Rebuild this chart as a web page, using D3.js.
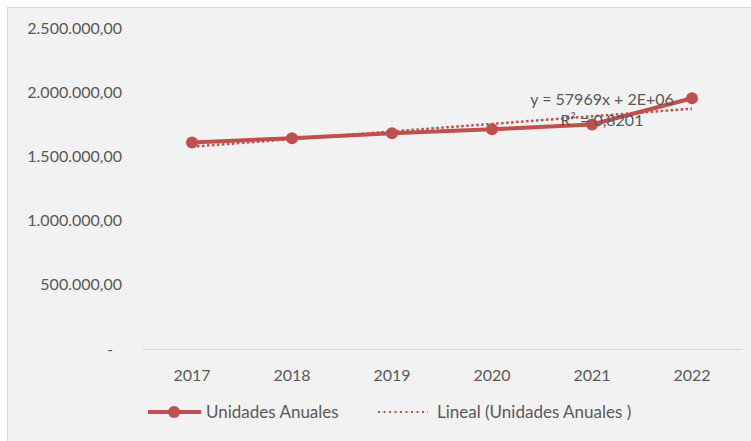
<!DOCTYPE html>
<html>
<head>
<meta charset="utf-8">
<script src="https://cdn.jsdelivr.net/npm/d3@7"></script>
<style>
  body { margin: 0; background: #fff; }
  svg { display: block; font-family: Lato, "Noto Sans", sans-serif; }
</style>
</head>
<body>
<svg id="chart" width="751" height="441"></svg>
<script>
// chart data
const years = ['2017', '2018', '2019', '2020', '2021', '2022'];
const unidades = [1609000, 1641000, 1680000, 1711000, 1748000, 1953000];
const yTicks = [0, 500000, 1000000, 1500000, 2000000, 2500000];
const trendLabels = ['y = 57969x + 2E+06', 'R² = 0,8201'];
const legendLabels = ['Unidades Anuales', 'Lineal (Unidades Anuales )'];

const red = '#c0504d';
const textColor = '#595959';

const svg = d3.select('#chart');

// chart area frame
svg.append('rect')
  .attr('x', 7.5).attr('y', 7.5)
  .attr('width', 760).attr('height', 440)
  .attr('fill', '#f2f2f2')
  .attr('stroke', '#d9d9d9');

const x = d3.scaleBand().domain(years).range([142, 742]);
const y = d3.scaleLinear().domain([0, 2500000]).range([349, 28]);

// Spanish number format
const fmt = d3.formatLocale({ decimal: ',', thousands: '.', grouping: [3], currency: ['', ''] }).format(',.2f');

// y axis labels
svg.append('g').selectAll('text')
  .data(yTicks)
  .join('text')
    .attr('x', d => d === 0 ? 113 : 122)
    .attr('y', d => y(d))
    .attr('dy', '0.35em')
    .attr('text-anchor', 'end')
    .attr('fill', textColor)
    .style('font-size', '16px')
    .text(d => d === 0 ? '-' : fmt(d));

// baseline
svg.append('line')
  .attr('x1', 142).attr('x2', 742)
  .attr('y1', y(0) + 0.5).attr('y2', y(0) + 0.5)
  .attr('stroke', '#d9d9d9');

// x axis labels
svg.append('g').selectAll('text')
  .data(years)
  .join('text')
    .attr('x', d => x(d) + x.bandwidth() / 2)
    .attr('y', 381)
    .attr('text-anchor', 'middle')
    .attr('fill', textColor)
    .style('font-size', '16px')
    .text(d => d);

const cx = (d, i) => x(years[i]) + x.bandwidth() / 2;

// linear trend (least squares on index 1..n)
const n = unidades.length;
const idx = d3.range(1, n + 1);
const mx = d3.mean(idx), my = d3.mean(unidades);
const slope = d3.sum(idx, (k, i) => (k - mx) * (unidades[i] - my)) / d3.sum(idx, k => (k - mx) ** 2);
const intercept = my - slope * mx;
const trend = idx.map(k => intercept + slope * k);

// series line
svg.append('path')
  .datum(unidades)
  .attr('fill', 'none')
  .attr('stroke', red)
  .attr('stroke-width', 4)
  .attr('stroke-linejoin', 'round')
  .attr('d', d3.line().x(cx).y(d => y(d)));

svg.append('g').selectAll('circle')
  .data(unidades)
  .join('circle')
    .attr('cx', cx)
    .attr('cy', d => y(d))
    .attr('r', 6)
    .attr('fill', red);

// trend line drawn over the series
svg.append('path')
  .datum(trend)
  .attr('fill', 'none')
  .attr('stroke', red)
  .attr('stroke-width', 2.5)
  .attr('stroke-dasharray', '2.5 2.5')
  .attr('d', d3.line().x(cx).y(d => y(d)));

// trend equation
svg.append('g').selectAll('text')
  .data(trendLabels)
  .join('text')
    .attr('x', 602)
    .attr('y', (d, i) => 105 + i * 21)
    .attr('text-anchor', 'middle')
    .attr('fill', textColor)
    .style('font-size', '16px')
    .text(d => d);

// legend
const legend = svg.append('g');
legend.append('line')
  .attr('x1', 148).attr('x2', 201).attr('y1', 412).attr('y2', 412)
  .attr('stroke', red).attr('stroke-width', 4);
legend.append('circle')
  .attr('cx', 174).attr('cy', 412).attr('r', 6).attr('fill', red);
legend.append('text')
  .attr('x', 206).attr('y', 412).attr('dy', '0.35em')
  .attr('fill', textColor).style('font-size', '17px')
  .text(legendLabels[0]);
legend.append('line')
  .attr('x1', 378).attr('x2', 428).attr('y1', 412).attr('y2', 412)
  .attr('stroke', red).attr('stroke-width', 2)
  .attr('stroke-dasharray', '2 3.5');
legend.append('text')
  .attr('x', 437).attr('y', 412).attr('dy', '0.35em')
  .attr('fill', textColor).style('font-size', '17px')
  .text(legendLabels[1]);
</script>
</body>
</html>
